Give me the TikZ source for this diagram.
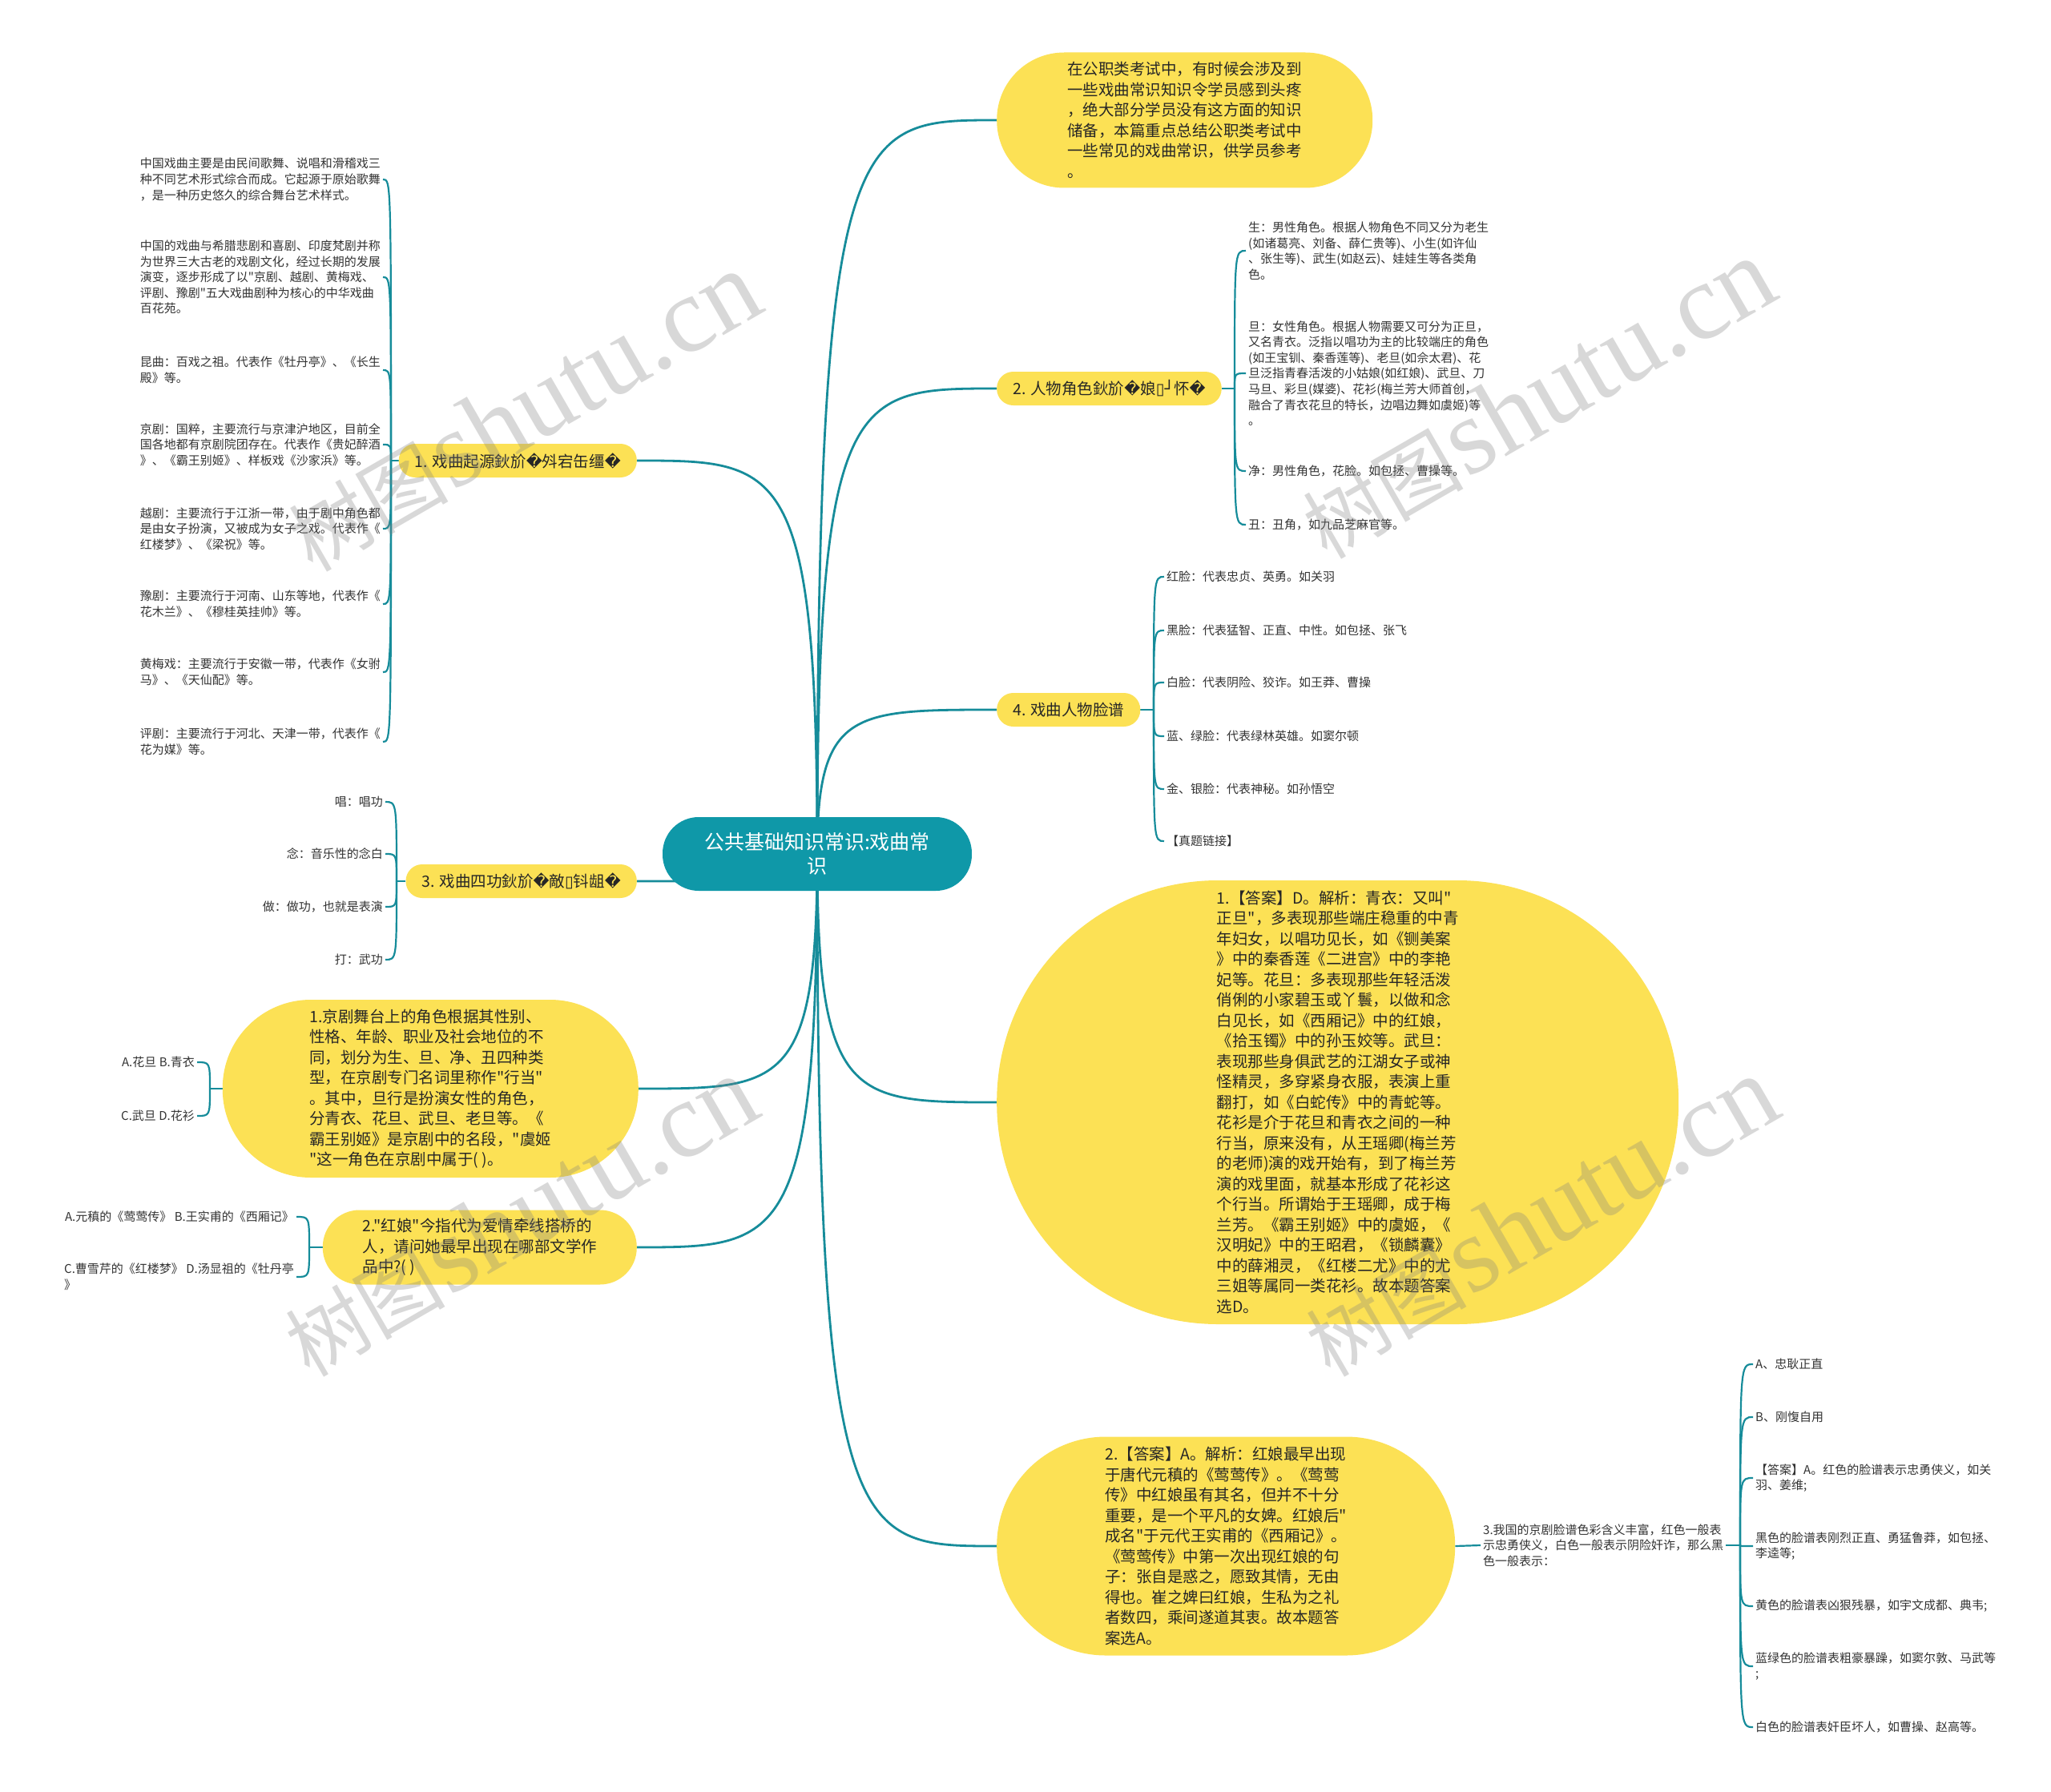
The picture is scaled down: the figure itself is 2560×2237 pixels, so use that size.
\documentclass[tikz,border=0pt]{standalone}
\usepackage{fontspec}
\setmainfont{Noto Sans CJK SC}
\newfontfamily\cjkfont{Noto Sans CJK SC}
\newfontfamily\dejavu{DejaVu Sans}
\newfontfamily\wmlatin{Liberation Serif}
\usetikzlibrary{positioning, calc, backgrounds}
\definecolor{bubble}{HTML}{FCE155}
\definecolor{hubteal}{HTML}{0F98A8}
\definecolor{linkteal}{HTML}{168C9A}
\newcommand{\badch}{{\dejavu\char"FFFD}}
\newcommand{\tofu}{{\dejavu\char"25AF}}
\newcommand{\cornerch}{{\dejavu\char"2518}}

\begin{document}
\begin{tikzpicture}[x=1pt, y=-1pt,
    hub/.style={rectangle, rounded corners=45pt, fill=hubteal, text=white, align=center, font=\cjkfont\fontsize{25}{30}\selectfont, minimum height=92pt, inner xsep=52pt},
    title/.style={rectangle, rounded corners=20.5pt, fill=bubble, text=black!85, font=\cjkfont\fontsize{19.5}{25.5}\selectfont, minimum height=42pt, inner xsep=20pt},
    topic/.style={rectangle, fill=bubble, text=black!85, align=left, font=\cjkfont\fontsize{19.5}{25.5}\selectfont},
    leaf/.style={align=left, text=black!80, font=\cjkfont\fontsize{15}{19.6}\selectfont, inner sep=3pt},
    link/.style={draw=linkteal, line width=2.2pt},
    mainlink/.style={draw=linkteal, line width=2.8pt},
    wmark/.style={rotate=30, text=black!50, opacity=0.3}]
\useasboundingbox (0,0) rectangle (2560,2237);

% centre
\node[hub] (root) at (1020,1066) {公共基础知识常识:戏曲常\\识};

% right side
\node[topic, anchor=west, minimum width=469pt, minimum height=169pt, rounded corners=84pt] (intro) at (1244,150) {在公职类考试中，有时候会涉及到\\一些戏曲常识知识令学员感到头疼\\，绝大部分学员没有这方面的知识\\储备，本篇重点总结公职类考试中\\一些常见的戏曲常识，供学员参考\\。};
\node[title, anchor=west] (T2) at (1244,485) {2. 人物角色鈥斺\badch 娘\tofu\cornerch 怀\badch};
\node[title, anchor=west] (T4) at (1244,886) {4. 戏曲人物脸谱};
\node[topic, anchor=west, minimum width=851pt, minimum height=554pt, rounded corners=276pt] (A1) at (1244,1376) {1.【答案】D。解析：青衣：又叫"\\正旦"，多表现那些端庄稳重的中青\\年妇女，以唱功见长，如《铡美案\\》中的秦香莲《二进宫》中的李艳\\妃等。花旦：多表现那些年轻活泼\\俏俐的小家碧玉或丫鬟，以做和念\\白见长，如《西厢记》中的红娘，\\《拾玉镯》中的孙玉姣等。武旦：\\表现那些身俱武艺的江湖女子或神\\怪精灵，多穿紧身衣服，表演上重\\翻打，如《白蛇传》中的青蛇等。\\花衫是介于花旦和青衣之间的一种\\行当，原来没有，从王瑶卿(梅兰芳\\的老师)演的戏开始有，到了梅兰芳\\演的戏里面，就基本形成了花衫这\\个行当。所谓始于王瑶卿，成于梅\\兰芳。《霸王别姬》中的虞姬，《\\汉明妃》中的王昭君，《锁麟囊》\\中的薛湘灵，《红楼二尤》中的尤\\三姐等属同一类花衫。故本题答案\\选D。};
\node[topic, anchor=west, minimum width=572pt, minimum height=273pt, rounded corners=136pt] (A2) at (1244,1930) {2.【答案】A。解析：红娘最早出现\\于唐代元稹的《莺莺传》。《莺莺\\传》中红娘虽有其名，但并不十分\\重要，是一个平凡的女婢。红娘后"\\成名"于元代王实甫的《西厢记》。\\《莺莺传》中第一次出现红娘的句\\子：张自是惑之，愿致其情，无由\\得也。崔之婢曰红娘，生私为之礼\\者数四，乘间遂道其衷。故本题答\\案选A。};

% left side
\node[title, anchor=east] (T1) at (795,575) {1. 戏曲起源鈥斺\badch 斘宕缶缰\badch};
\node[title, anchor=east] (T3) at (795,1100) {3. 戏曲四功鈥斺\badch 敵\tofu 钭龃\badch};
\node[topic, anchor=east, minimum width=519pt, minimum height=222pt, rounded corners=110pt] (Q1) at (797,1359) {1.京剧舞台上的角色根据其性别、\\性格、年龄、职业及社会地位的不\\同，划分为生、旦、净、丑四种类\\型，在京剧专门名词里称作"行当"\\。其中，旦行是扮演女性的角色，\\分青衣、花旦、武旦、老旦等。《\\霸王别姬》是京剧中的名段，"虞姬\\"这一角色在京剧中属于( )。};
\node[topic, anchor=east, minimum width=392pt, minimum height=93pt, rounded corners=46pt] (Q2) at (795,1557) {2."红娘"今指代为爱情牵线搭桥的\\人，请问她最早出现在哪部文学作\\品中?( )};

% leaves of 1
\node[leaf, anchor=east] (T1a) at (478,224) {中国戏曲主要是由民间歌舞、说唱和滑稽戏三\\种不同艺术形式综合而成。它起源于原始歌舞\\，是一种历史悠久的综合舞台艺术样式。};
\node[leaf, anchor=east] (T1b) at (478,346) {中国的戏曲与希腊悲剧和喜剧、印度梵剧并称\\为世界三大古老的戏剧文化，经过长期的发展\\演变，逐步形成了以"京剧、越剧、黄梅戏、\\评剧、豫剧"五大戏曲剧种为核心的中华戏曲\\百花苑。};
\node[leaf, anchor=east] (T1c) at (478,462) {昆曲：百戏之祖。代表作《牡丹亭》、《长生\\殿》等。};
\node[leaf, anchor=east] (T1d) at (478,555) {京剧：国粹，主要流行与京津沪地区，目前全\\国各地都有京剧院团存在。代表作《贵妃醉酒\\》、《霸王别姬》、样板戏《沙家浜》等。};
\node[leaf, anchor=east] (T1e) at (478,660) {越剧：主要流行于江浙一带，由于剧中角色都\\是由女子扮演，又被成为女子之戏。代表作《\\红楼梦》、《梁祝》等。};
\node[leaf, anchor=east] (T1f) at (478,754) {豫剧：主要流行于河南、山东等地，代表作《\\花木兰》、《穆桂英挂帅》等。};
\node[leaf, anchor=east] (T1g) at (478,839) {黄梅戏：主要流行于安徽一带，代表作《女驸\\马》、《天仙配》等。};
\node[leaf, anchor=east] (T1h) at (478,926) {评剧：主要流行于河北、天津一带，代表作《\\花为媒》等。};

% leaves of 3
\node[leaf, anchor=east] (T3a) at (481,1001) {唱：唱功};
\node[leaf, anchor=east] (T3b) at (481,1066) {念：音乐性的念白};
\node[leaf, anchor=east] (T3c) at (481,1132) {做：做功，也就是表演};
\node[leaf, anchor=east] (T3d) at (481,1198) {打：武功};

% leaves of the two questions
\node[leaf, anchor=east] (Q1a) at (246,1326) {A.花旦 B.青衣};
\node[leaf, anchor=east] (Q1b) at (246,1393) {C.武旦 D.花衫};
\node[leaf, anchor=east] (Q2a) at (370,1519) {A.元稹的《莺莺传》 B.王实甫的《西厢记》};
\node[leaf, anchor=east] (Q2b) at (370,1594) {C.曹雪芹的《红楼梦》 D.汤显祖的《牡丹亭\\》};

% leaves of 2
\node[leaf, anchor=west] (T2a) at (1555,313) {生：男性角色。根据人物角色不同又分为老生\\(如诸葛亮、刘备、薛仁贵等)、小生(如许仙\\、张生等)、武生(如赵云)、娃娃生等各类角\\色。};
\node[leaf, anchor=west] (T2b) at (1555,466) {旦：女性角色。根据人物需要又可分为正旦，\\又名青衣。泛指以唱功为主的比较端庄的角色\\(如王宝钏、秦香莲等)、老旦(如佘太君)、花\\旦泛指青春活泼的小姑娘(如红娘)、武旦、刀\\马旦、彩旦(媒婆)、花衫(梅兰芳大师首创，\\融合了青衣花旦的特长，边唱边舞如虞姬)等\\。};
\node[leaf, anchor=west] (T2c) at (1555,588) {净：男性角色，花脸。如包拯、曹操等。};
\node[leaf, anchor=west] (T2d) at (1555,655) {丑：丑角，如九品芝麻官等。};

% leaves of 4
\node[leaf, anchor=west] (T4a) at (1453,720) {红脸：代表忠贞、英勇。如关羽};
\node[leaf, anchor=west] (T4b) at (1453,787) {黑脸：代表猛智、正直、中性。如包拯、张飞};
\node[leaf, anchor=west] (T4c) at (1453,852) {白脸：代表阴险、狡诈。如王莽、曹操};
\node[leaf, anchor=west] (T4d) at (1453,919) {蓝、绿脸：代表绿林英雄。如窦尔顿};
\node[leaf, anchor=west] (T4e) at (1453,985) {金、银脸：代表神秘。如孙悟空};
\node[leaf, anchor=west] (T4f) at (1453,1050) {【真题链接】};

% question 3 under answer 2
\node[leaf, anchor=west] (A3) at (1848,1929) {3.我国的京剧脸谱色彩含义丰富，红色一般表\\示忠勇侠义，白色一般表示阴险奸诈，那么黑\\色一般表示：};
\node[leaf, anchor=west] (A3a) at (2188,1703) {A、忠耿正直};
\node[leaf, anchor=west] (A3b) at (2188,1769) {B、刚愎自用};
\node[leaf, anchor=west] (A3c) at (2188,1845) {【答案】A。红色的脸谱表示忠勇侠义，如关\\羽、姜维;};
\node[leaf, anchor=west] (A3d) at (2188,1930) {黑色的脸谱表刚烈正直、勇猛鲁莽，如包拯、\\李逵等;};
\node[leaf, anchor=west] (A3e) at (2188,2005) {黄色的脸谱表凶狠残暴，如宇文成都、典韦;};
\node[leaf, anchor=west] (A3f) at (2188,2080) {蓝绿色的脸谱表粗豪暴躁，如窦尔敦、马武等\\;};
\node[leaf, anchor=west] (A3g) at (2188,2156) {白色的脸谱表奸臣坏人，如曹操、赵高等。};

% junctions of the brackets
\coordinate (J1) at (488,575);
\coordinate (J3) at (495,1100);
\coordinate (J2) at (1541,485);
\coordinate (J4) at (1440,886);
\coordinate (JQ1) at (262,1359);
\coordinate (JQ2) at (386,1557);
\coordinate (JA3) at (2172,1929);

\begin{pgfonlayer}{background}
\fill[white] (0,0) rectangle (2560,2237);
% main branches
\foreach \t/\a in {intro/west, T2/west, T4/west, A1/west, A2/west, T1/east, T3/east, Q1/east, Q2/east}
  \draw[mainlink] (root.center) .. controls (root.center |- \t.\a) and ($(root.center |- \t.\a)!0.2!(\t.\a)$) .. (\t.\a);
% brackets
\draw[link] (T1.west) -- (J1);
\foreach \k in {a,b,c,d,e,f,g,h}
  \draw[link] (J1) .. controls (J1 |- T1\k.east) .. (T1\k.east);
\draw[link] (T3.west) -- (J3);
\foreach \k in {a,b,c,d}
  \draw[link] (J3) .. controls (J3 |- T3\k.east) .. (T3\k.east);
\draw[link] (Q1.west) -- (JQ1);
\foreach \k in {a,b}
  \draw[link] (JQ1) .. controls (JQ1 |- Q1\k.east) .. (Q1\k.east);
\draw[link] (Q2.west) -- (JQ2);
\foreach \k in {a,b}
  \draw[link] (JQ2) .. controls (JQ2 |- Q2\k.east) .. (Q2\k.east);
\draw[link] (T2.east) -- (J2);
\foreach \k in {a,b,c,d}
  \draw[link] (J2) .. controls (J2 |- T2\k.west) .. (T2\k.west);
\draw[link] (T4.east) -- (J4);
\foreach \k in {a,b,c,d,e,f}
  \draw[link] (J4) .. controls (J4 |- T4\k.west) .. (T4\k.west);
\draw[link] (A2.east) -- (A3.west);
\draw[link] (A3.east) -- (JA3);
\foreach \k in {a,b,c,d,e,f,g}
  \draw[link] (JA3) .. controls (JA3 |- A3\k.west) .. (A3\k.west);
\end{pgfonlayer}

% watermarks
\foreach \p [count=\i] in {(653,514), (1919,498), (649,1519), (1923,1519)}
  \node[wmark] (W\i) at \p {{\cjkfont\fontsize{100}{100}\selectfont 树图} {\wmlatin\fontsize{135}{135}\selectfont shutu.cn}};
\end{tikzpicture}
\end{document}
